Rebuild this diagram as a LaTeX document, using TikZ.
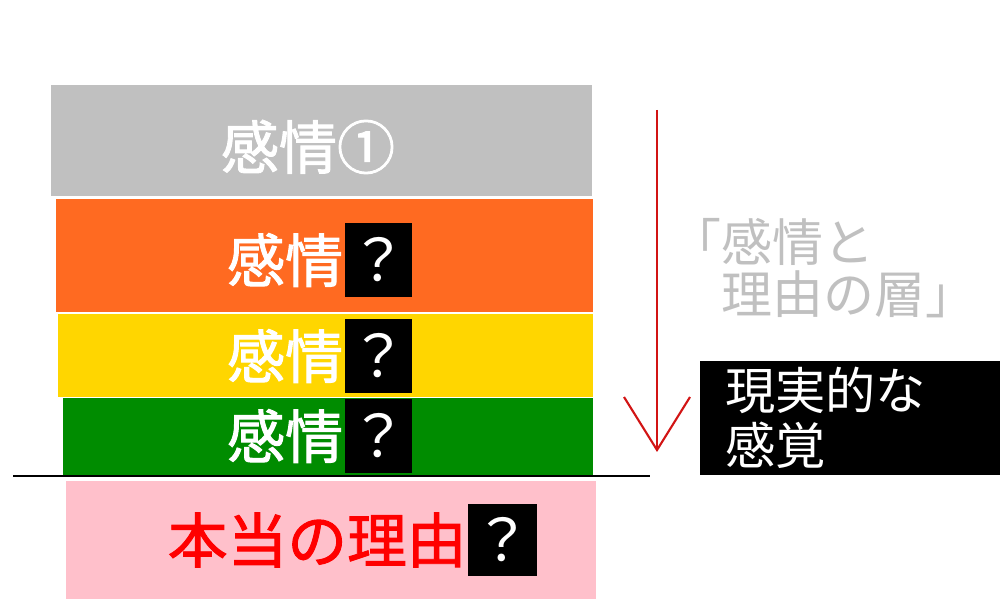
\documentclass[tikz,border=0pt]{standalone}
\usepackage{fontspec}
\setmainfont{Noto Sans CJK JP}
\newfontfamily\thickcjk[FakeBold=1.6]{Noto Sans CJK JP}
\usetikzlibrary{positioning,arrows.meta}
\definecolor{layergray}{RGB}{192,192,192}
\definecolor{layerorange}{RGB}{255,106,33}
\definecolor{layeryellow}{RGB}{255,214,0}
\definecolor{layergreen}{RGB}{0,140,0}
\definecolor{layerpink}{RGB}{255,192,203}
\definecolor{arrowred}{RGB}{210,20,20}
\tikzset{
  layer/.style={rectangle, inner sep=0pt, anchor=north west},
  feel/.style={text=white, inner sep=0pt, font=\thickcjk\fontsize{16.5}{18}\selectfont},
  qbox/.style={fill=black, text=white, inner sep=0pt, minimum width=0.67cm, minimum height=0.74cm, font=\fontsize{16.5}{18}\selectfont},
}
\begin{document}
\begin{tikzpicture}
		%%%%% START %%%%%
		\useasboundingbox[fill=white] (0, 0) rectangle (10, 6.01);
		
		% layers
		\node[layer, fill=layergray, minimum width=5.41cm, minimum height=1.11cm] (l1) at (0.50, 5.17) {};
		\node[layer, fill=layerorange, minimum width=5.37cm, minimum height=1.13cm] (l2) at (0.55, 4.03) {};
		\node[layer, fill=layeryellow, minimum width=5.35cm, minimum height=0.83cm] (l3) at (0.57, 2.88) {};
		\node[layer, fill=layergreen, minimum width=5.30cm, minimum height=0.77cm] (l4) at (0.62, 2.04) {};
		\node[layer, fill=layerpink, minimum width=5.30cm, minimum height=1.18cm] (l5) at (0.65, 1.21) {};
		
		\coordinate (lineL) at (0.13, 1.25);
		\coordinate (lineR) at (6.50, 1.25);
		\draw[line width=0.6pt] (lineL) -- (lineR);
		
		% labels
		\node[feel] (t1) at (3.08, 4.54) {感情①};
		
		\node[qbox] (q2) at (3.78, 3.41) {？};
		\node[feel, left=0pt of q2] (t2) {感情};
		\node[qbox] (q3) at (3.78, 2.45) {？};
		\node[feel, left=0pt of q3] (t3) {感情};
		\node[qbox] (q4) at (3.78, 1.65) {？};
		\node[feel, left=0pt of q4] (t4) {感情};
		
		\node[qbox, minimum width=0.69cm, minimum height=0.72cm] (q5) at (5.025, 0.61) {？};
		\node[feel, text=red, font=\thickcjk\fontsize{17}{18}\selectfont, left=0pt of q5] (t5) {本当の理由};
		
		% arrow and notes
		\coordinate (arrTop) at (6.57, 4.91);
		\coordinate (arrBot) at (6.57, 1.49);
		\draw[arrowred, line width=0.6pt, -{Straight Barb[length=5.3mm, width=6.6mm, line width=0.6pt]}] (arrTop) -- (arrBot);
		
		\node[anchor=north west, align=left, text=layergray, inner sep=0pt, font=\fontsize{14.5}{14.8}\selectfont] (layers) at (6.70, 3.83) {「感情と\\　理由の層」};
		
		\node[fill=black, text=white, minimum width=3cm, minimum height=1.14cm, inner sep=0pt, align=left, text width=2.5cm, font=\fontsize{14.3}{15.6}\selectfont] (real) at (8.5, 1.83) {現実的な\\感覚};
		
		%%%%% END %%%%%
\end{tikzpicture}
\end{document}
